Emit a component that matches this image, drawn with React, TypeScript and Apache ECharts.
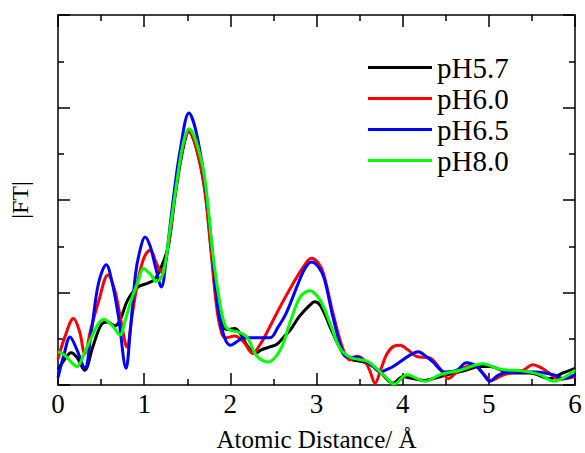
import React, { useEffect, useRef } from "react";
import * as echarts from "echarts";

const seriesNames = ["pH5.7", "pH6.0", "pH6.5", "pH8.0"];
const seriesColors = ["#000000", "#ff0000", "#0000ff", "#00ff00"];
const xTickLabels = ["0", "1", "2", "3", "4", "5", "6"];

const ph57X = [0, 0.08, 0.15, 0.22, 0.31, 0.4, 0.5, 0.57, 0.66, 0.72, 0.81, 0.93, 1.04, 1.12, 1.2, 1.28, 1.36, 1.45, 1.52, 1.6, 1.7, 1.78, 1.85, 1.92, 1.98, 2.05, 2.12, 2.2, 2.29, 2.36, 2.45, 2.54, 2.62, 2.7, 2.8, 2.92, 2.98, 3.05, 3.19, 3.31, 3.39, 3.54, 3.64, 3.74, 3.89, 4.0, 4.12, 4.24, 4.4, 4.51, 4.7, 4.9, 5.01, 5.25, 5.48, 5.71, 5.86, 6.0];
const ph57Y = [0.17, 0.28, 0.35, 0.3, 0.16, 0.4, 0.65, 0.68, 0.64, 0.7, 0.92, 1.06, 1.1, 1.14, 1.28, 1.5, 2.05, 2.55, 2.74, 2.58, 2.15, 1.45, 0.85, 0.62, 0.6, 0.61, 0.55, 0.42, 0.34, 0.38, 0.41, 0.44, 0.52, 0.6, 0.74, 0.86, 0.9, 0.85, 0.56, 0.34, 0.28, 0.25, 0.21, 0.14, 0.02, 0.09, 0.07, 0.05, 0.08, 0.11, 0.15, 0.2, 0.2, 0.13, 0.13, 0.07, 0.13, 0.18];

const ph60X = [0, 0.08, 0.18, 0.25, 0.31, 0.38, 0.47, 0.58, 0.66, 0.73, 0.8, 0.86, 0.93, 1.0, 1.07, 1.14, 1.2, 1.28, 1.36, 1.45, 1.52, 1.6, 1.7, 1.77, 1.84, 1.9, 1.95, 2.05, 2.15, 2.26, 2.34, 2.42, 2.58, 2.73, 2.85, 2.94, 3.02, 3.08, 3.19, 3.31, 3.39, 3.47, 3.56, 3.62, 3.68, 3.75, 3.82, 3.9, 3.97, 4.06, 4.16, 4.32, 4.43, 4.53, 4.63, 4.72, 4.82, 4.92, 5.03, 5.17, 5.4, 5.51, 5.6, 5.7, 5.82, 6.0];
const ph60Y = [0.28, 0.52, 0.72, 0.58, 0.34, 0.6, 0.9, 1.19, 1.02, 0.7, 0.41, 0.75, 1.14, 1.38, 1.46, 1.32, 1.22, 1.5, 2.1, 2.57, 2.74, 2.58, 2.12, 1.5, 0.85, 0.56, 0.51, 0.53, 0.47, 0.34, 0.43, 0.56, 0.85, 1.1, 1.28, 1.37, 1.32, 1.21, 0.78, 0.38, 0.27, 0.31, 0.26, 0.15, 0.02, 0.18, 0.34, 0.42, 0.43, 0.38, 0.31, 0.29, 0.18, 0.07, 0.14, 0.19, 0.22, 0.14, 0.05, 0.11, 0.16, 0.22, 0.19, 0.13, 0.06, 0.09];

const ph65X = [0, 0.07, 0.14, 0.22, 0.31, 0.39, 0.47, 0.56, 0.63, 0.7, 0.79, 0.84, 0.9, 0.95, 1.01, 1.07, 1.13, 1.2, 1.26, 1.33, 1.42, 1.52, 1.6, 1.7, 1.78, 1.86, 1.93, 2.0, 2.08, 2.15, 2.46, 2.55, 2.65, 2.78, 2.86, 2.94, 3.02, 3.09, 3.19, 3.31, 3.39, 3.47, 3.58, 3.66, 3.74, 3.82, 3.89, 4.08, 4.18, 4.27, 4.35, 4.49, 4.63, 4.74, 4.86, 4.95, 5.01, 5.1, 5.17, 5.32, 5.55, 5.75, 5.86, 6.0];
const ph65Y = [0.08, 0.33, 0.52, 0.38, 0.18, 0.6, 1.1, 1.3, 1.1, 0.75, 0.18, 0.6, 1.2, 1.45, 1.6, 1.5, 1.28, 1.06, 1.4, 1.95, 2.55, 2.94, 2.75, 2.22, 1.55, 0.8, 0.52, 0.43, 0.47, 0.51, 0.51, 0.62, 0.78, 1.08, 1.25, 1.33, 1.28, 1.15, 0.74, 0.34, 0.3, 0.3, 0.25, 0.2, 0.14, 0.17, 0.2, 0.32, 0.36, 0.31, 0.25, 0.14, 0.16, 0.24, 0.2, 0.1, 0.04, 0.1, 0.13, 0.14, 0.14, 0.11, 0.07, 0.11];

const ph80X = [0, 0.08, 0.15, 0.22, 0.3, 0.39, 0.46, 0.53, 0.64, 0.72, 0.78, 0.85, 0.93, 0.99, 1.07, 1.14, 1.22, 1.3, 1.38, 1.45, 1.52, 1.6, 1.7, 1.8, 1.88, 1.94, 2.0, 2.07, 2.19, 2.31, 2.44, 2.58, 2.69, 2.81, 2.92, 3.04, 3.16, 3.27, 3.39, 3.58, 3.66, 3.74, 3.82, 3.9, 4.05, 4.26, 4.43, 4.67, 4.93, 5.13, 5.4, 5.6, 5.75, 6.0];
const ph80Y = [0.36, 0.32, 0.25, 0.2, 0.33, 0.52, 0.65, 0.71, 0.63, 0.54, 0.7, 0.92, 1.12, 1.26, 1.2, 1.12, 1.21, 1.68, 2.2, 2.6, 2.77, 2.64, 2.25, 1.39, 0.88, 0.64, 0.59, 0.58, 0.52, 0.31, 0.25, 0.38, 0.67, 0.95, 1.02, 0.92, 0.66, 0.4, 0.3, 0.26, 0.21, 0.14, 0.07, 0.01, 0.11, 0.04, 0.11, 0.16, 0.23, 0.17, 0.15, 0.11, 0.04, 0.16];

const seriesX = [ph57X, ph60X, ph65X, ph80X];
const seriesY = [ph57Y, ph60Y, ph65Y, ph80Y];

const FONT = "'Liberation Serif', 'Times New Roman', Times, serif";

export default function App() {
  const ref = useRef<HTMLDivElement>(null);
  useEffect(() => {
    if (!ref.current) return;
    const chart = echarts.init(ref.current, undefined, { renderer: "svg" });
    const axisLine = { show: true, onZero: false, lineStyle: { color: "#000", width: 1.5 } };
    const tick = { show: true, inside: true, length: 12, lineStyle: { color: "#000", width: 1.5 } };
    const minor = { show: true, splitNumber: 2, length: 6, lineStyle: { color: "#000", width: 1.5 } };
    chart.setOption({
      animation: false,
      backgroundColor: "#fff",
      grid: { left: 58, right: 10, top: 15, bottom: 68, containLabel: false, outerBoundsMode: "none" },
      legend: {
        orient: "vertical",
        left: 363,
        top: 47,
        itemWidth: 64,
        itemHeight: 3,
        itemGap: 0,
        icon: "rect",
        textStyle: { fontFamily: FONT, fontSize: 29, color: "#000", lineHeight: 31 },
        data: seriesNames,
      },
      xAxis: [
        {
          type: "value",
          min: 0,
          max: 6,
          interval: 1,
          position: "bottom",
          axisLine,
          axisTick: tick,
          minorTick: minor,
          splitLine: { show: false },
          axisLabel: {
            show: true,
            margin: 5,
            fontFamily: FONT,
            fontSize: 27,
            color: "#000",
            formatter: (v: number) => xTickLabels[Math.round(v)] ?? "",
          },
          name: "Atomic Distance/ Å",
          nameLocation: "middle",
          nameGap: 42,
          nameTextStyle: { fontFamily: FONT, fontSize: 25, color: "#000" },
        },
        {
          type: "value",
          min: 0,
          max: 6,
          interval: 1,
          position: "top",
          axisLine,
          axisTick: tick,
          minorTick: minor,
          splitLine: { show: false },
          axisLabel: { show: false },
        },
      ],
      yAxis: [
        {
          type: "value",
          min: 0,
          max: 4,
          interval: 1,
          position: "left",
          axisLine,
          axisTick: tick,
          minorTick: minor,
          splitLine: { show: false },
          axisLabel: { show: false },
          name: "|FT|",
          nameLocation: "middle",
          nameGap: 26,
          nameTextStyle: { fontFamily: FONT, fontSize: 24, color: "#000" },
        },
        {
          type: "value",
          min: 0,
          max: 4,
          interval: 1,
          position: "right",
          axisLine,
          axisTick: tick,
          minorTick: minor,
          splitLine: { show: false },
          axisLabel: { show: false },
        },
      ],
      series: seriesNames.map((name, i) => ({
        name,
        type: "line",
        xAxisIndex: 0,
        yAxisIndex: 0,
        data: seriesX[i].map((x, j) => [x, seriesY[i][j]]),
        showSymbol: false,
        symbol: "none",
        smooth: 0.35,
        lineStyle: { color: seriesColors[i], width: 3 },
        itemStyle: { color: seriesColors[i] },
      })),
    });
    return () => chart.dispose();
  }, []);
  return <div ref={ref} style={{ width: 585, height: 453, position: "absolute", left: 0, top: 0 }} />;
}
